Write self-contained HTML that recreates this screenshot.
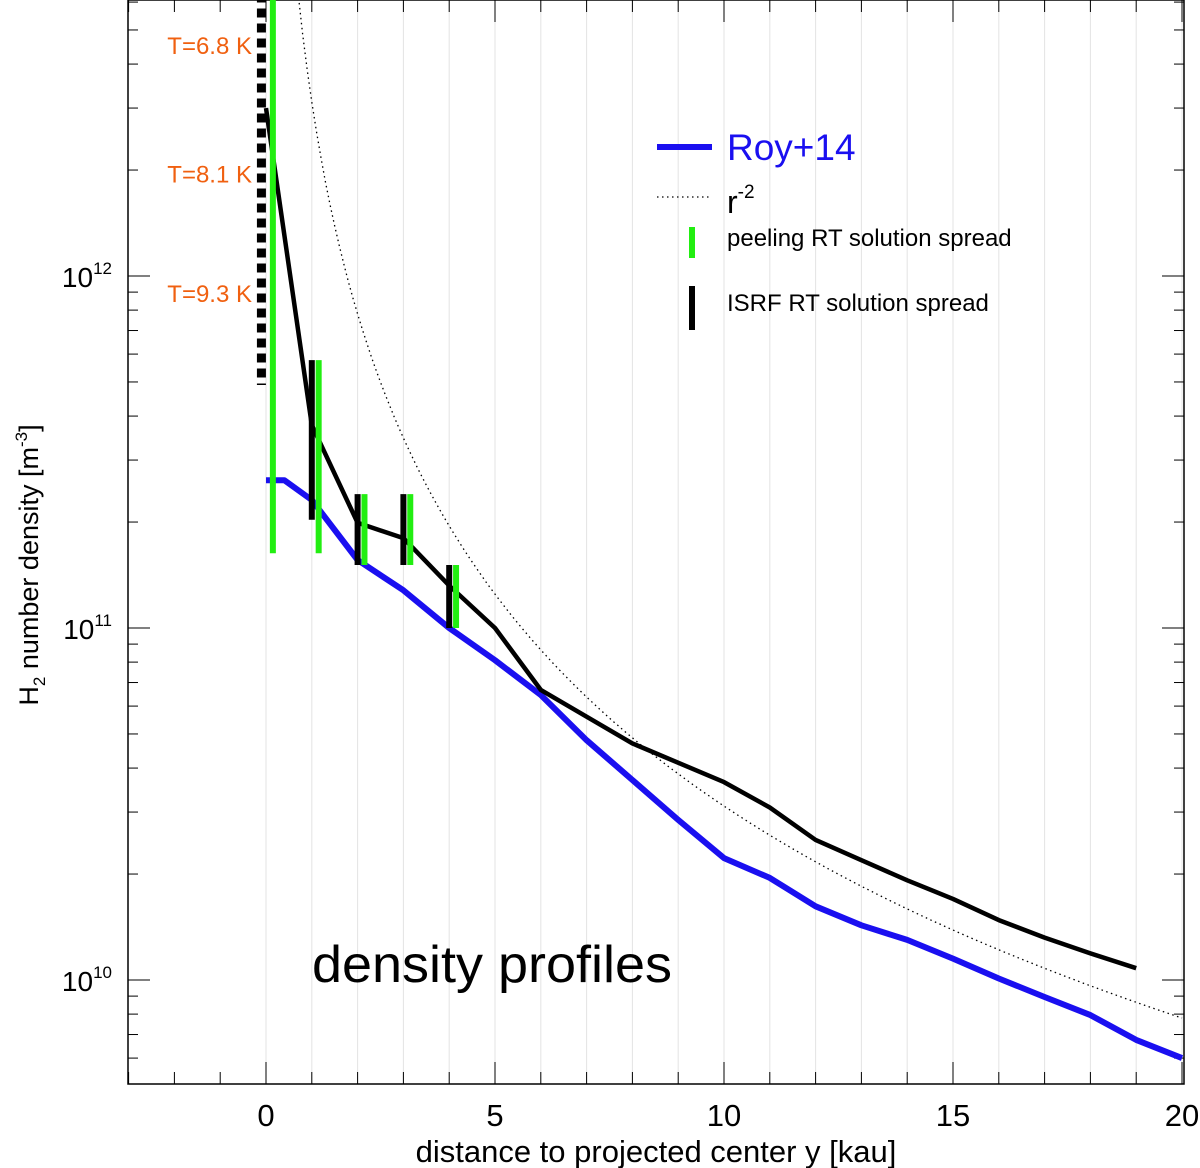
<!DOCTYPE html>
<html><head><meta charset="utf-8"><style>
html,body{margin:0;padding:0;background:#fff;}
svg{display:block;font-family:"Liberation Sans",sans-serif;}
</style></head><body>
<svg id="chart" width="1200" height="1168"></svg>
<script>
const xTicks=[0,5,10,15,20];
const yDecades=[10,11,12];
const royX=[0,0.4,1,2,3,4,5,6,7,8,9,10,11,12,13,14,15,16,17,18,19,20];
const royY=[2.63e11,2.63e11,2.31e11,1.56e11,1.28e11,1.0e11,8.1e10,6.45e10,4.8e10,3.7e10,2.85e10,2.22e10,1.95e10,1.62e10,1.43e10,1.30e10,1.15e10,1.01e10,8.95e9,7.95e9,6.76e9,6.0e9];
const isrfX=[0,1,2,3,4,5,6,8,10,11,12,13,14,15,16,17,18,19];
const isrfY=[3.0e12,3.77e11,1.99e11,1.8e11,1.32e11,1.0e11,6.67e10,4.7e10,3.65e10,3.09e10,2.5e10,2.19e10,1.92e10,1.70e10,1.48e10,1.32e10,1.19e10,1.08e10];
const r2Coef=[3.12e12];
const peelX=[0.15,1.15,2.15,3.15,4.15];
const peelLo=[1.63e11,1.63e11,1.51e11,1.51e11,1.0e11];
const peelHi=[7e12,5.77e11,2.4e11,2.4e11,1.51e11];
const isrfBarX=[1.0,2.0,3.0,4.0];
const isrfBarLo=[2.03e11,1.51e11,1.51e11,1.0e11];
const isrfBarHi=[5.77e11,2.4e11,2.4e11,1.51e11];
const tempLabels=["T=6.8 K","T=8.1 K","T=9.3 K"];
const tempVals=[4.5e12,1.94e12,8.9e11];
const dashX=[-0.1];
const dashLo=[4.9e11];
const dashHi=[7e12];

const L=128,R=1184,T=0,B=1084;
const X=v=>266+(v-0)*45.8;
const Y=v=>276+(12-Math.log10(v))*352;
const svg=document.getElementById('chart');
const NS='http://www.w3.org/2000/svg';
function mk(tag,attrs,parent){const e=document.createElementNS(NS,tag);for(const k in attrs)e.setAttribute(k,attrs[k]);(parent||svg).appendChild(e);return e;}

for(let i=0;i<=20;i++){
  const g=mk('line',{x1:X(i),x2:X(i),y1:T,y2:B,stroke:'#e3e3e3','stroke-width':1});
  
  
}
for(let i=-3;i<=20;i++){
  const len=(i%5===0)?22:12;
  const t1=mk('line',{x1:X(i),x2:X(i),y1:B,y2:B-len,stroke:'#000','stroke-width':1});
  
  
  const t2=mk('line',{x1:X(i),x2:X(i),y1:T,y2:T+len,stroke:'#000','stroke-width':1});
  
  
}
xTicks.forEach(v=>{
  const t=mk('text',{x:X(v),y:1126,'text-anchor':'middle','font-size':31});
  t.textContent=v;
  
  
});
for(let d=9;d<=12;d++){
  for(let m=1;m<=9;m++){
    const v=m*Math.pow(10,d);const y=Y(v);
    if(y<T||y>B)continue;
    const len=m===1?22:10;
    const a=mk('line',{x1:L,x2:L+len,y1:y,y2:y,stroke:'#000','stroke-width':1});
    
    
    const b=mk('line',{x1:R,x2:R-len,y1:y,y2:y,stroke:'#000','stroke-width':1});
    
    
  }
}
yDecades.forEach(d=>{
  const t=mk('text',{x:112,y:Y(Math.pow(10,d))+11,'text-anchor':'end','font-size':28});
  t.innerHTML='10<tspan dy="-13" font-size="17">'+d+'</tspan>';
  
  
});
const fr=mk('rect',{x:L,y:T,width:R-L,height:B-T,fill:'none',stroke:'#000','stroke-width':1.5});



function poly(xs,ys,attrs,name){
  const p=xs.map((x,i)=>X(x).toFixed(1)+','+Y(ys[i]).toFixed(1)).join(' ');
  const e=mk('polyline',Object.assign({points:p,fill:'none'},attrs));
  
  
  return e;
}
const rx=[],ry=[];
for(let x=0.7;x<=20.001;x+=0.1){rx.push(x);ry.push(r2Coef[0]/(x*x));}
poly(rx,ry,{stroke:'#000','stroke-width':1.3,'stroke-dasharray':'1.5,3.5'},'r-minus-2-line');
poly(royX,royY,{stroke:'#1a0ff0','stroke-width':6,'stroke-linejoin':'round'},'roy14-line');
poly(isrfX,isrfY,{stroke:'#000','stroke-width':4.5,'stroke-linejoin':'round'},'isrf-line');
dashX.forEach((x,i)=>{
  const e=mk('line',{x1:X(x),x2:X(x),y1:Y(dashHi[i]),y2:Y(dashLo[i]),stroke:'#000','stroke-width':9,'stroke-dasharray':'9,6'});
  
  
});
isrfBarX.forEach((x,i)=>{
  const e=mk('line',{x1:X(x),x2:X(x),y1:Y(isrfBarHi[i]),y2:Y(isrfBarLo[i]),stroke:'#000','stroke-width':6});
  
  
});
peelX.forEach((x,i)=>{
  const e=mk('line',{x1:X(x),x2:X(x),y1:Math.max(0,Y(peelHi[i])),y2:Y(peelLo[i]),stroke:'#22ee11','stroke-width':6});
  
  
});
tempLabels.forEach((s,i)=>{
  const t=mk('text',{x:252,y:Y(tempVals[i])+8,'text-anchor':'end','font-size':24,fill:'#f06010'});
  t.textContent=s;
  
  
});
</script>
<svg width="1200" height="1168" style="position:absolute;left:0;top:0">
 <g font-family="Liberation Sans, sans-serif">
  <line x1="657" y1="147" x2="712" y2="147" stroke="#1a0ff0" stroke-width="6"/>
  <text x="727" y="160" font-size="37" fill="#1a0ff0">Roy+14</text>
  <line x1="657" y1="197" x2="712" y2="197" stroke="#000" stroke-width="1.3" stroke-dasharray="1.5,3.5"/>
  <text x="727" y="213" font-size="32">r<tspan dy="-15" font-size="19">-2</tspan></text>
  <line x1="692" y1="227" x2="692" y2="258" stroke="#22ee11" stroke-width="6"/>
  <text x="727" y="246" font-size="24">peeling RT solution spread</text>
  <line x1="692" y1="286" x2="692" y2="330" stroke="#000" stroke-width="6"/>
  <text x="727" y="311" font-size="24">ISRF RT solution spread</text>
  <text x="312" y="982" font-size="52" textLength="360" lengthAdjust="spacingAndGlyphs">density profiles</text>
  <text x="656" y="1162" font-size="31" text-anchor="middle">distance to projected center y [kau]</text>
  <text transform="translate(38,565) rotate(-90)" font-size="27" text-anchor="middle">H<tspan dy="7" font-size="17">2</tspan><tspan dy="-7"> number density [m</tspan><tspan dy="-11" font-size="17">-3</tspan><tspan dy="11">]</tspan></text>
 </g>
</svg>
</body></html>
